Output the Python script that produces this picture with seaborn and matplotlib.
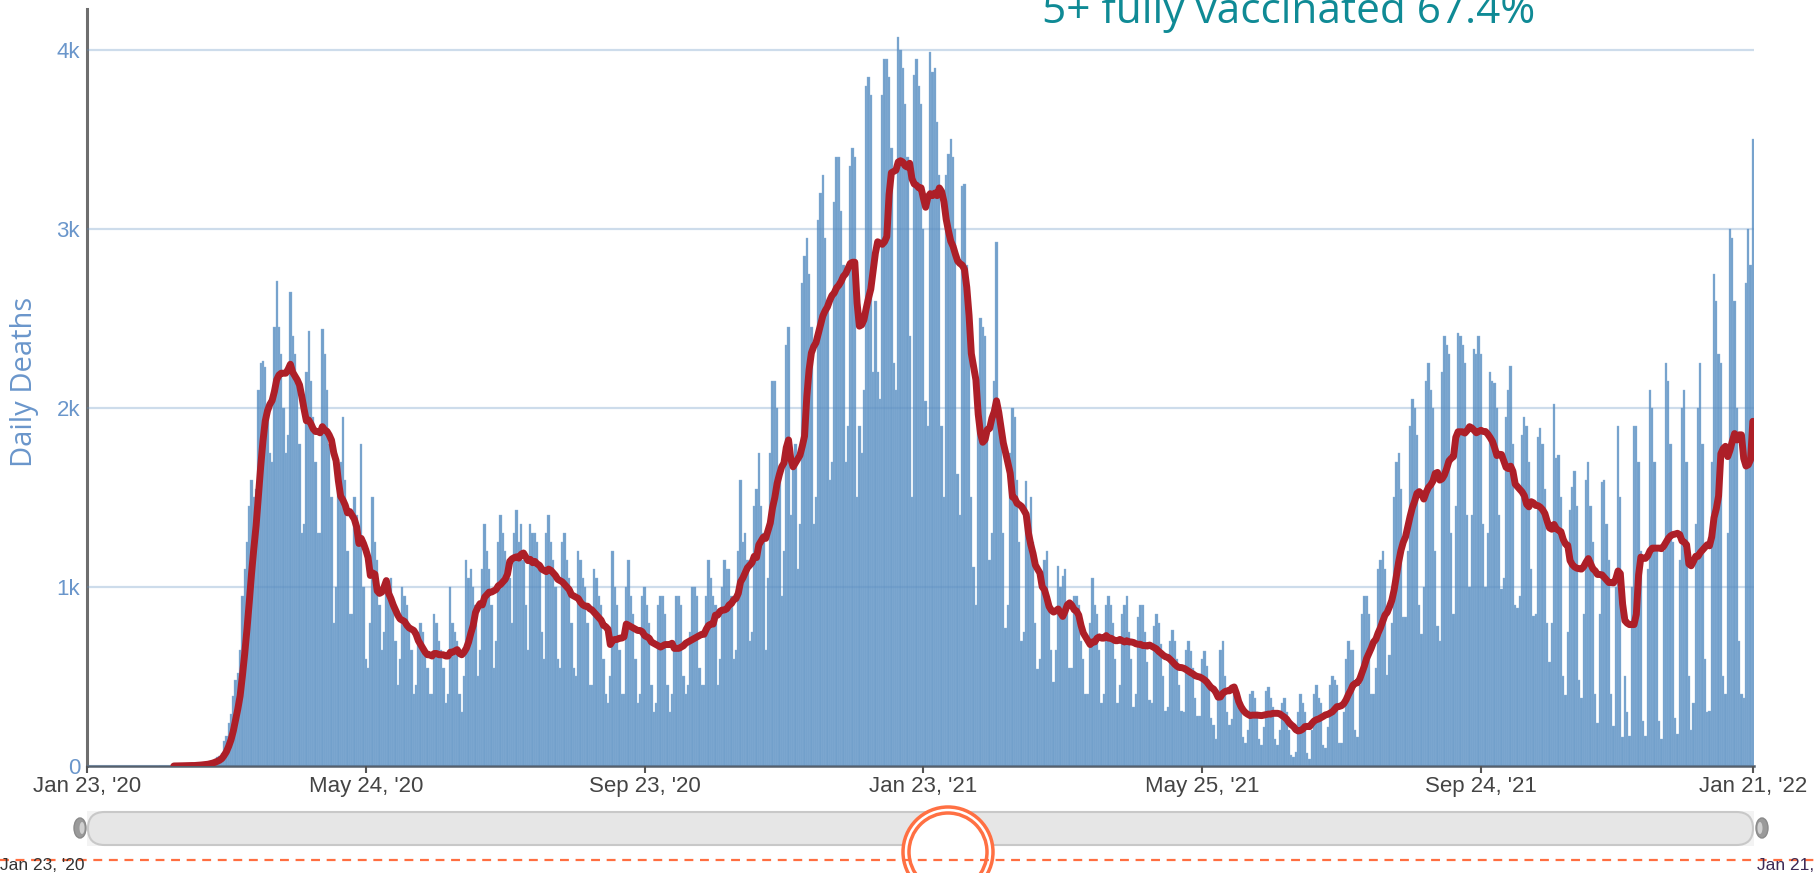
import numpy as np
import pandas as pd
import matplotlib
matplotlib.use("Agg")
import matplotlib.pyplot as plt
from matplotlib.patches import FancyBboxPatch, Circle, Rectangle, Ellipse
import seaborn as sns

W, H = 1816, 873
START = "2020-02-24"

# daily deaths, one row per week, Monday first (Feb 24 2020 - Jan 3 2021)
deaths_2020 = [
    0, 0, 0, 0, 0, 1, 0,
    1, 4, 1, 2, 3, 2, 3,
    4, 4, 7, 8, 11, 12, 10,
    18, 24, 30, 40, 48, 55, 75,
    140, 170, 240, 290, 390, 480, 520,
    650, 950, 1100, 1250, 1450, 1600, 1500,
    1550, 2100, 2250, 2260, 2230, 2000, 1750,
    1700, 2450, 2710, 2450, 2300, 2000, 1750,
    1850, 2650, 2400, 2300, 2150, 1800, 1300,
    1350, 2200, 2430, 2150, 1950, 1700, 1300,
    1300, 2440, 2300, 2100, 1800, 1500, 800,
    1000, 1650, 1700, 1950, 1600, 1200, 850,
    850, 1500, 1400, 1300, 1800, 1000, 600,
    550, 800, 1500, 1250, 1150, 900, 650,
    750, 1050, 1000, 1050, 900, 700, 450,
    600, 1000, 950, 900, 800, 650, 400,
    450, 750, 800, 750, 650, 550, 400,
    400, 850, 800, 700, 650, 550, 350,
    400, 1000, 800, 750, 700, 400, 300,
    500, 1150, 1050, 1100, 1000, 900, 500,
    650, 1100, 1350, 1200, 1100, 900, 550,
    700, 1250, 1400, 1300, 1200, 1100, 1050,
    800, 1300, 1430, 1250, 1350, 1150, 900,
    650, 1350, 1300, 1300, 1250, 1100, 750,
    600, 1300, 1400, 1250, 1150, 1000, 600,
    550, 1250, 1300, 1150, 1050, 800, 550,
    500, 1200, 1150, 1050, 1000, 800, 450,
    450, 1100, 1050, 950, 900, 600, 400,
    350, 500, 1200, 1000, 900, 650, 400,
    400, 1000, 1150, 950, 850, 600, 350,
    400, 950, 1000, 900, 800, 450, 300,
    350, 900, 950, 950, 850, 450, 300,
    400, 700, 950, 950, 900, 500, 400,
    450, 750, 1000, 1000, 950, 550, 450,
    450, 950, 1150, 1050, 950, 900, 450,
    600, 1000, 1150, 1100, 1100, 950, 600,
    650, 1200, 1600, 1250, 1300, 1150, 700,
    750, 1450, 1550, 1750, 1450, 1300, 650,
    1050, 1750, 2150, 2150, 2000, 1650, 950,
    1200, 2350, 2450, 1400, 1700, 1800, 1100,
    1350, 2700, 2850, 2950, 2750, 2450, 1350,
    1500, 3050, 3200, 3300, 2950, 2600, 1600,
    1700, 3150, 3400, 3400, 3100, 2800, 1700,
    1900, 3350, 3450, 3400, 1500, 1900, 1750,
    2100, 3800, 3850, 3750, 2200, 2600, 2200,
]

# Jan 4 2021 - Jan 2 2022
deaths_2021 = [
    2050, 3750, 3950, 3950, 3850, 3450, 2250,
    2100, 4070, 4000, 3900, 3700, 3400, 2400,
    1500, 3860, 3950, 3800, 3700, 3000, 2040,
    1900, 3990, 3875, 3900, 3600, 3300, 1900,
    1500, 3300, 3420, 3500, 3400, 3000, 1630,
    1400, 3240, 3250, 2800, 2300, 1500, 1110,
    900, 1900, 2500, 2450, 2400, 1900, 1150,
    1300, 2150, 2930, 2000, 1800, 1300, 770,
    900, 1750, 2000, 1950, 1600, 1250, 700,
    750, 1590, 1270, 1500, 1250, 800, 540,
    600, 1050, 1150, 1200, 900, 650, 470,
    650, 1120, 1000, 1060, 1100, 900, 550,
    550, 950, 950, 900, 700, 600, 400,
    400, 800, 1050, 900, 850, 650, 350,
    400, 900, 950, 900, 800, 600, 350,
    450, 850, 900, 950, 750, 600, 330,
    400, 830, 900, 900, 750, 580, 370,
    350, 780, 850, 800, 680, 500, 310,
    330, 700, 760, 700, 600, 450, 310,
    300, 650, 700, 640, 550, 380, 280,
    280, 600, 640, 560, 430, 270, 230,
    150, 410, 650, 700, 500, 300, 230,
    260, 450, 400, 380, 300, 160, 130,
    200, 400, 420, 380, 300, 150, 120,
    220, 420, 440, 380, 330, 150, 120,
    200, 350, 380, 300, 200, 60, 50,
    80, 300, 400, 350, 300, 70, 40,
    200, 400, 450, 380, 350, 120, 100,
    220, 450, 500, 480, 450, 130, 130,
    300, 600, 700, 650, 650, 200, 160,
    450, 850, 950, 950, 850, 400, 400,
    550, 1100, 1150, 1200, 1100, 510, 620,
    800, 1500, 1700, 1750, 1550, 830, 830,
    1200, 1900, 2050, 2000, 1850, 900, 740,
    1000, 2150, 2250, 2100, 2000, 1200, 780,
    700, 2200, 2400, 2350, 2300, 1300, 850,
    1450, 2420, 2400, 2350, 2250, 1400, 1000,
    1400, 2330, 2300, 2400, 2300, 1350, 1000,
    1300, 2200, 2150, 2140, 2000, 1400, 990,
    1050, 1950, 2100, 2235, 1800, 900, 885,
    950, 1850, 1950, 1900, 1700, 1100, 840,
    850, 1840, 1890, 1800, 1550, 800, 580,
    800, 2025, 1720, 1740, 1500, 500, 395,
    750, 1430, 1560, 1650, 1450, 480, 380,
    850, 1600, 1700, 1450, 1250, 400, 240,
    850, 1584, 1600, 1350, 1150, 400, 226,
    1000, 1900, 1500, 160, 500, 300, 170,
    1000, 1900, 1900, 1700, 1200, 250, 170,
    1100, 2100, 2000, 1700, 1200, 250, 150,
    1200, 2250, 2150, 1800, 1250, 270, 180,
    1150, 2000, 2100, 1700, 500, 200, 350,
    1350, 2000, 2250, 1800, 600, 300, 310,
]

# Jan 3 2022 - Jan 21 2022
deaths_2022 = [
    1700, 2750, 2600, 2300, 2250, 500, 400,
    1300, 3000, 2950, 2600, 2000, 700, 400,
    380, 2700, 3000, 2800, 3500,
]

tick_dates = ["2020-01-23", "2020-05-24", "2020-09-23", "2021-01-23",
              "2021-05-25", "2021-09-24", "2022-01-21"]
tick_labels = ["Jan 23, '20", "May 24, '20", "Sep 23, '20", "Jan 23, '21",
               "May 25, '21", "Sep 24, '21", "Jan 21, '22"]
y_ticks = [0, 1000, 2000, 3000, 4000]
y_labels = ["0", "1k", "2k", "3k", "4k"]
note = "5+ fully vaccinated 67.4%"


def main():
    deaths = deaths_2020 + deaths_2021 + deaths_2022
    df = pd.DataFrame({"date": pd.date_range(START, periods=len(deaths), freq="D"),
                       "deaths": deaths})
    df["avg"] = df["deaths"].rolling(7).mean()

    sns.set_theme(style="white")
    plt.rcParams["font.family"] = ["Liberation Sans", "DejaVu Sans"]

    fig = plt.figure(figsize=(W / 100, H / 100), dpi=100)
    ax = fig.add_axes([87 / W, (H - 766) / H, (1754 - 87) / W, (766 - 9) / H])

    ax.bar(df["date"], df["deaths"], width=1.0, color="#72a0cb",
           edgecolor="#8fb6db", linewidth=0.25, zorder=1)
    sns.lineplot(data=df, x="date", y="avg", ax=ax, color="#ad1f28", linewidth=5,
                 estimator=None, zorder=3)

    ax.set_xlim(pd.Timestamp("2020-01-23"), pd.Timestamp("2022-01-21") + pd.Timedelta(hours=12))
    ax.set_ylim(0, 4229)
    ax.set_xlabel("")
    ax.set_ylabel("")

    ax.set_xticks(pd.to_datetime(tick_dates))
    ax.set_xticklabels(tick_labels)
    ax.set_yticks(y_ticks)
    ax.set_yticklabels(y_labels)
    ax.tick_params(axis="x", length=5, width=1.5, color="#555555", pad=2,
                   labelsize=16, labelcolor="#444444", bottom=True)
    ax.tick_params(axis="y", length=0, pad=5, labelsize=16, labelcolor="#6a96cb")

    ax.yaxis.grid(True, color="#5b8cc0", alpha=0.3, linewidth=1.6, zorder=2)
    ax.xaxis.grid(False)
    ax.set_axisbelow(False)

    for s in ["top", "right"]:
        ax.spines[s].set_visible(False)
    ax.spines["left"].set_color("#6e6e6e")
    ax.spines["left"].set_linewidth(2.2)
    ax.spines["bottom"].set_color("#55606c")
    ax.spines["bottom"].set_linewidth(1.8)

    fig.text(25 / W, 1 - 382 / H, "Daily Deaths", rotation=90, ha="center", va="center",
             color="#6a96cb", fontsize=21, family="Open Sans")
    fig.text(1042 / W, 1 - 23 / H, note, color="#0f8a95", fontsize=30.5,
             family="Open Sans", va="baseline")

    # range slider underneath, drawn in pixel coordinates
    ov = fig.add_axes([0, 0, 1, 1], zorder=5)
    ov.set_xlim(0, W)
    ov.set_ylim(H, 0)
    ov.axis("off")
    ov.patch.set_alpha(0)
    ov.add_patch(Rectangle((87, 811), 1667, 35, facecolor="#f3f3f3", edgecolor="none"))
    ov.add_patch(FancyBboxPatch((88, 812), 1665, 33, boxstyle="round,pad=0,rounding_size=16.5",
                                facecolor="#e6e6e6", edgecolor="#c8c8c8", linewidth=1.5))
    for hx, side in ((80, 1), (1762, -1)):
        ov.add_patch(Ellipse((hx, 828), 12, 20, facecolor="#9a9a9a", edgecolor="#8a8a8a"))
        ov.add_patch(Ellipse((hx + side * 2, 828), 5, 12, facecolor="#d0d0d0", edgecolor="none"))
    ov.plot([0, W], [860, 860], color="#ff6e40", linewidth=1.6, dashes=(4, 3))
    ov.text(0, 858, "Jan 23, '20", fontsize=12.5, color="#333333", va="top", ha="left")
    ov.text(1757, 858, "Jan 21, '22", fontsize=12.5, color="#3d2b56", va="top", ha="left")
    ov.add_patch(Circle((948, 852), 45, facecolor="white", edgecolor="#ff7043", linewidth=2.5))
    ov.add_patch(Circle((948, 852), 39, facecolor="white", edgecolor="#ff7043", linewidth=2.5))

    fig.savefig("out.png", dpi=100)


if __name__ == "__main__":
    main()
